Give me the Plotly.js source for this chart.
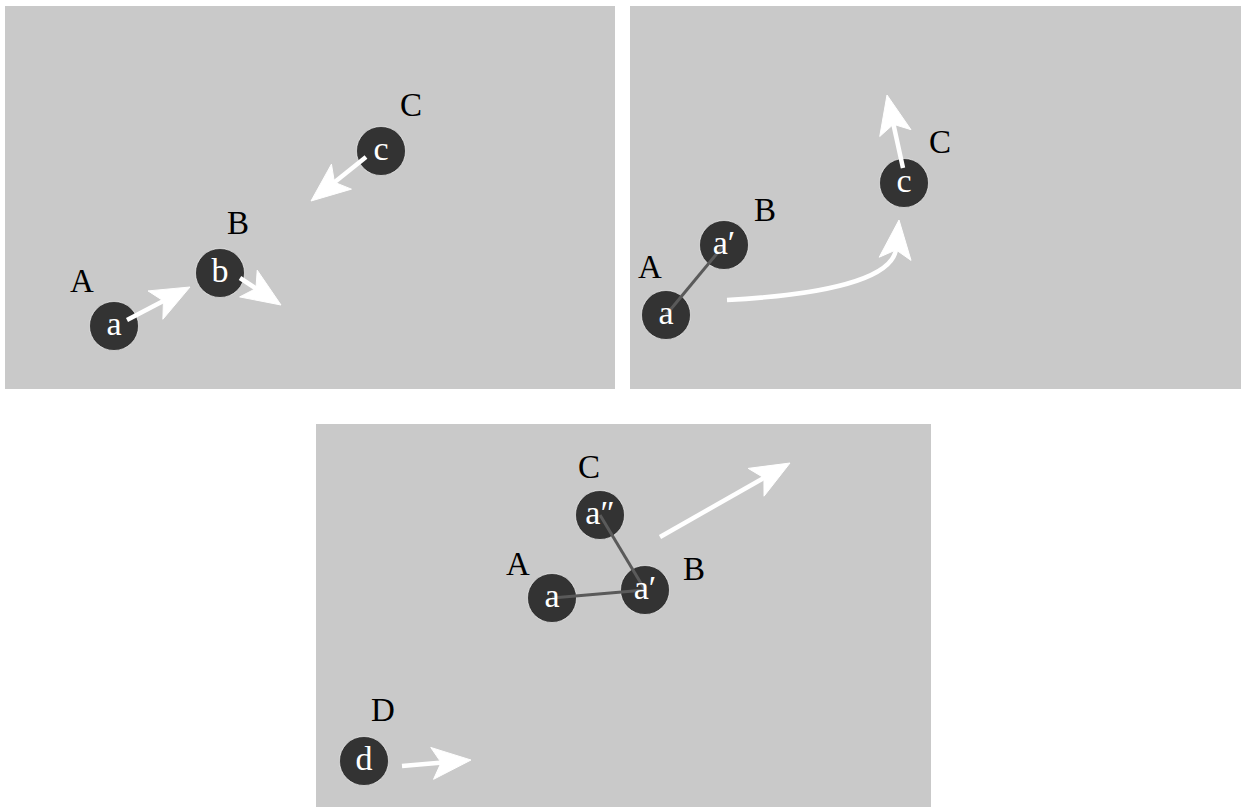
<!DOCTYPE html>
<html>
<head>
<meta charset="utf-8">
<script src="https://cdn.plot.ly/plotly-3.0.1.min.js"></script>
<style>html,body{margin:0;padding:0;background:#fff;}#chart{width:1241px;height:807px;}</style>
</head>
<body>
<div id="chart"></div>
<script>
// Panels (pixel coordinates of the three map panels)
const panelX0 = [5, 630, 316];
const panelX1 = [615, 1241, 931];
const panelY0 = [6, 6, 424];
const panelY1 = [389, 389, 807];

// Robots (dark discs)
const circleX = [114, 220, 381, 666, 724, 904, 552, 645, 600, 364];
const circleY = [326, 273, 151, 315, 245, 183, 598, 590, 515, 761];
const circleText = ['a', 'b', 'c', 'a', 'a\u2032', 'c', 'a', 'a\u2032', 'a\u2033', 'd'];

// Position labels
const labelX = [82, 238, 411, 650, 765, 940, 518, 694, 589, 383];
const labelY = [284, 226, 108, 270, 213, 145, 567, 572, 470, 713];
const labelText = ['A', 'B', 'C', 'A', 'B', 'C', 'A', 'B', 'C', 'D'];

// Links between discs
const linkX0 = [666, 552, 645];
const linkY0 = [315, 598, 590];
const linkX1 = [724, 645, 600];
const linkY1 = [245, 590, 515];

// Straight arrows (tail -> tip)
const arrowTailX = [127, 240, 366, 903, 660, 402];
const arrowTailY = [320, 278, 157, 168, 537, 766];
const arrowTipX  = [190, 281, 311, 887, 790, 471];
const arrowTipY  = [287, 305, 201, 95, 463, 760];

// Curved arrow (start, two control points, tip)
const curveX = [727, 820, 893, 899];
const curveY = [300, 295, 280, 220];

const headLen = 39, headHalf = 16, headNotch = 9, shaftW = 4.5;

const shapes = [];
for (let i = 0; i < panelX0.length; i++) {
  shapes.push({type: 'rect', xref: 'x', yref: 'y', layer: 'below',
    x0: panelX0[i], x1: panelX1[i], y0: panelY0[i], y1: panelY1[i],
    fillcolor: '#c9c9c9', line: {width: 0}});
}
function head(tx, ty, ux, uy) {
  const nx = -uy, ny = ux;
  const bx = tx - headLen * ux, by = ty - headLen * uy;
  const mx = bx + headNotch * ux, my = by + headNotch * uy;
  const p = 'M' + tx + ',' + ty +
    ' L' + (bx + headHalf * nx) + ',' + (by + headHalf * ny) +
    ' L' + mx + ',' + my +
    ' L' + (bx - headHalf * nx) + ',' + (by - headHalf * ny) + ' Z';
  shapes.push({type: 'path', xref: 'x', yref: 'y', layer: 'above', path: p,
    fillcolor: '#ffffff', line: {color: '#ffffff', width: 1}});
  return [mx + 1.5 * ux, my + 1.5 * uy];
}
for (let i = 0; i < arrowTailX.length; i++) {
  const dx = arrowTipX[i] - arrowTailX[i], dy = arrowTipY[i] - arrowTailY[i];
  const L = Math.hypot(dx, dy), ux = dx / L, uy = dy / L;
  const m = head(arrowTipX[i], arrowTipY[i], ux, uy);
  shapes.push({type: 'line', xref: 'x', yref: 'y', layer: 'above',
    x0: arrowTailX[i], y0: arrowTailY[i], x1: m[0], y1: m[1],
    line: {color: '#ffffff', width: shaftW}});
}
{
  const dx = curveX[3] - curveX[2], dy = curveY[3] - curveY[2];
  const L = Math.hypot(dx, dy), ux = dx / L, uy = dy / L;
  const m = head(curveX[3], curveY[3], ux, uy);
  const p = 'M' + curveX[0] + ',' + curveY[0] + ' C' + curveX[1] + ',' + curveY[1] +
    ' ' + curveX[2] + ',' + curveY[2] + ' ' + m[0] + ',' + m[1];
  shapes.push({type: 'path', xref: 'x', yref: 'y', layer: 'above', path: p,
    line: {color: '#ffffff', width: shaftW}});
}

const linkXs = [], linkYs = [];
for (let i = 0; i < linkX0.length; i++) {
  linkXs.push(linkX0[i], linkX1[i], null);
  linkYs.push(linkY0[i], linkY1[i], null);
}

const traces = [
  {type: 'scatter', mode: 'markers', x: circleX, y: circleY, hoverinfo: 'skip',
    marker: {size: 49, color: '#333333', line: {color: 'rgba(255,255,255,0.6)', width: 1}}},
  {type: 'scatter', mode: 'lines', x: linkXs, y: linkYs, hoverinfo: 'skip',
    line: {color: '#5a5a5a', width: 3}},
  {type: 'scatter', mode: 'text', x: circleX, y: circleY, text: circleText,
    textposition: 'middle center', hoverinfo: 'skip',
    textfont: {family: 'Liberation Serif', size: 34, color: '#ffffff'}},
  {type: 'scatter', mode: 'text', x: labelX, y: labelY, text: labelText,
    textposition: 'middle center', hoverinfo: 'skip',
    textfont: {family: 'Liberation Serif', size: 33, color: '#000000'}}
];

const layout = {
  width: 1241, height: 807,
  margin: {l: 0, r: 0, t: 0, b: 0, pad: 0},
  paper_bgcolor: '#ffffff', plot_bgcolor: '#ffffff',
  showlegend: false,
  xaxis: {range: [0, 1241], visible: false, fixedrange: true},
  yaxis: {range: [807, 0], visible: false, fixedrange: true},
  shapes: shapes
};

Plotly.newPlot('chart', traces, layout, {staticPlot: true, displayModeBar: false});
</script>
</body>
</html>
